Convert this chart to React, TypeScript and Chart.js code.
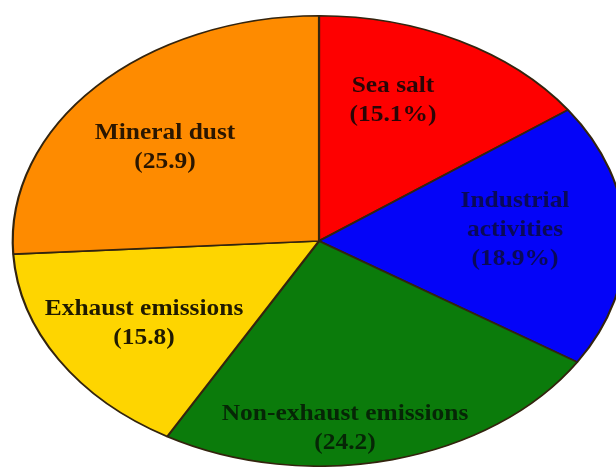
import React, { useRef, useEffect } from 'react';
import Chart from 'chart.js/auto';

// Source apportionment shares, clockwise from 12 o'clock
const SOURCES = ['Sea salt', 'Industrial activities', 'Non-exhaust emissions', 'Exhaust emissions', 'Mineral dust'];
const SHARES = [15.1, 18.9, 24.2, 15.8, 25.9];
const SHARE_TEXT = ['(15.1%)', '(18.9%)', '(24.2)', '(15.8)', '(25.9)'];
const LABEL_LINES = [['Sea salt'], ['Industrial', 'activities'], ['Non-exhaust emissions'], ['Exhaust emissions'], ['Mineral dust']];

const FILLS = ['#fe0000', '#0404f8', '#0b7b0b', '#fed500', '#fe8b00'];
const TEXT_COLORS = ['#2a0606', '#0a0a58', '#062606', '#201a00', '#2a1600'];
const EDGE = '#33240e';

// where each label block sits (first line centre), in page px
const LABEL_POS = [
  [393, 86],
  [515, 201],
  [345, 414],
  [144, 309],
  [165, 133],
];
const LINE_H = 29;
const TEXT_SX = 1.06; // the source figure is stretched sideways a bit
const PIE_SX = 1.36; // circle -> ellipse

const ellipsePlugin = {
  id: 'ellipse',
  beforeDatasetsDraw(chart: any) {
    const arc = chart.getDatasetMeta(0).data[0];
    if (!arc) return;
    const ctx = chart.ctx;
    ctx.save();
    ctx.translate(arc.x, 0);
    ctx.scale(PIE_SX, 1);
    ctx.translate(-arc.x, 0);
  },
  afterDatasetsDraw(chart: any) {
    const ctx = chart.ctx;
    ctx.restore();
    ctx.save();
    ctx.font = 'bold 24px "Liberation Serif", "Times New Roman", serif';
    ctx.textAlign = 'center';
    ctx.textBaseline = 'middle';
    SOURCES.forEach((_, i) => {
      const [x, y] = LABEL_POS[i];
      const lines = [...LABEL_LINES[i], SHARE_TEXT[i]];
      ctx.fillStyle = TEXT_COLORS[i];
      lines.forEach((t, j) => {
        ctx.save();
        ctx.translate(x, y + j * LINE_H);
        ctx.scale(TEXT_SX, 1);
        ctx.fillText(t, 0, 0);
        ctx.restore();
      });
    });
    ctx.restore();
  },
};

const PieChart: React.FC = () => {
  const ref = useRef<HTMLCanvasElement>(null);
  const inst = useRef<Chart | null>(null);

  useEffect(() => {
    if (!ref.current) return;
    inst.current = new Chart(ref.current, {
      type: 'pie',
      data: {
        labels: SOURCES,
        datasets: [{
          data: SHARES,
          backgroundColor: FILLS,
          borderColor: EDGE,
          borderWidth: 1.6,
          hoverOffset: 0,
        }],
      },
      options: {
        responsive: true,
        maintainAspectRatio: false,
        animation: false,
        events: [],
        layout: { padding: { left: 22, right: 0, top: 15, bottom: 0 } },
        plugins: {
          legend: { display: false },
          tooltip: { enabled: false },
        },
      },
      plugins: [ellipsePlugin],
    } as any);

    return () => {
      if (inst.current) {
        inst.current.destroy();
        inst.current = null;
      }
    };
  }, []);

  return (
    <div style={{ position: 'absolute', left: 0, top: 0, width: 616, height: 467, background: '#fff' }}>
      <canvas ref={ref}></canvas>
    </div>
  );
};

export default function App() {
  return <PieChart />;
}
